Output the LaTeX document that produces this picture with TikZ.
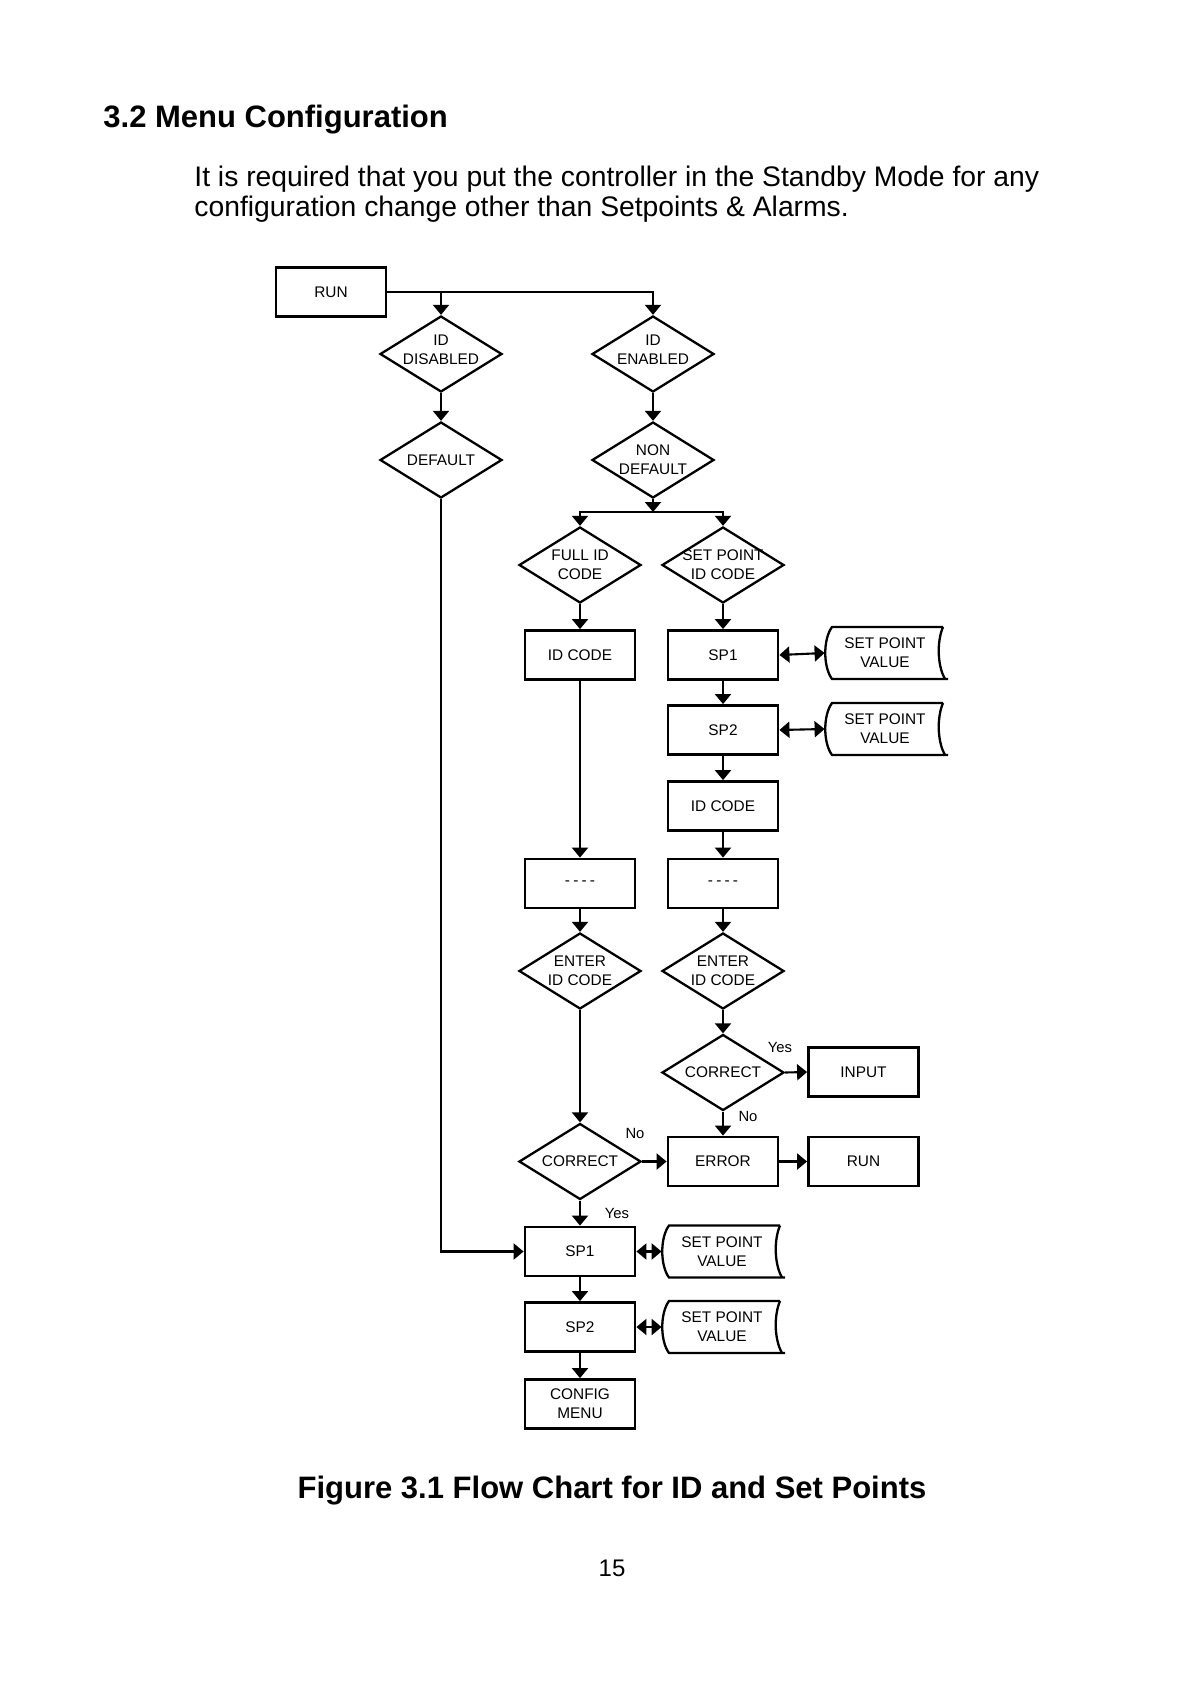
\documentclass[tikz,border=0pt]{standalone}
\usepackage{fontspec}
\setmainfont{Liberation Sans}
\usetikzlibrary{shapes.geometric,arrows.meta}
\begin{document}
\begin{tikzpicture}[x=0.5pt,y=-0.5pt,
  every node/.style={font=\fontsize{7.7}{9.5}\selectfont},
  box/.style={draw, line width=1.4pt, minimum width=55pt, minimum height=24.5pt, inner sep=0pt, align=center},
  dia/.style={draw, diamond, line width=1.15pt, minimum width=61pt, minimum height=38pt, inner sep=0pt},
  dtxt/.style={align=center, inner sep=0pt, font=\fontsize{7.7}{9.5}\selectfont},
  conn/.style={line width=1.05pt},
  arr/.style={conn, -{Triangle[width=8pt,length=5pt]}},
  darr/.style={conn, {Triangle[width=8pt,length=5pt]}-{Triangle[width=8pt,length=5pt]}},
  yn/.style={font=\fontsize{7.4}{9}\selectfont, inner sep=0pt},
  plaintext/.style={inner sep=0pt},
  pics/spv/.style={code={
     \node[minimum width=60pt, minimum height=26pt, inner sep=0pt, align=center] (-n) {SET POINT\\VALUE};
     \draw[line width=1.15pt] (58,-26) -- (-53,-26) .. controls (-62,-14) and (-62,14) .. (-53,26) -- (63,26);
     \draw[line width=1.15pt] (58,-26) .. controls (52,-12) and (52,12) .. (60,26);
  }}
]
\useasboundingbox (0,0) rectangle (1191,1684);

% page texts
\node[plaintext, anchor=base west, font=\fontsize{15.5}{18}\selectfont\bfseries] (title) at (103,128) {3.2 Menu Configuration};
\node[plaintext, anchor=base west, font=\fontsize{14.15}{15}\selectfont] (p1) at (194,187) {It is required that you put the controller in the Standby Mode for any};
\node[plaintext, anchor=base west, font=\fontsize{14.15}{15}\selectfont] (p2) at (194,217) {configuration change other than Setpoints \& Alarms.};
\node[plaintext, anchor=base, font=\fontsize{15.5}{18}\selectfont\bfseries] (cap) at (612,1498) {Figure 3.1 Flow Chart for ID and Set Points};
\node[plaintext, anchor=base, font=\fontsize{12}{14}\selectfont] (pg) at (612,1576) {15};

% nodes
\node[box] (run1) at (331,292) {RUN};
\node[dia, label={[dtxt, yshift=2pt]center:{ID\\DISABLED}}] (d1) at (441,354) {};
\node[dia, label={[dtxt, yshift=2pt]center:{ID\\ENABLED}}] (d2) at (653,354) {};
\node[dia, label={[dtxt]center:{DEFAULT}}] (d3) at (441,460) {};
\node[dia, label={[dtxt]center:{NON\\DEFAULT}}] (d4) at (653,460) {};
\coordinate (split) at (653,512);
\node[dia, label={[dtxt]center:{FULL ID\\CODE}}] (d5) at (580,565) {};
\node[dia, label={[dtxt]center:{SET POINT\\ID CODE}}] (d6) at (723,565) {};
\node[box] (b1) at (580,655) {ID CODE};
\node[box] (b2) at (723,655) {SP1};
\pic (sv1) at (885,653) {spv};
\node[box] (b3) at (723,730) {SP2};
\pic (sv2) at (885,729) {spv};
\node[box] (b4) at (723,806) {ID CODE};
\node[box] (b5) at (580,883.5) {-\kern1.6pt-\kern1.6pt-\kern1.6pt-};
\node[box] (b6) at (723,883.5) {-\kern1.6pt-\kern1.6pt-\kern1.6pt-};
\node[dia, label={[dtxt]center:{ENTER\\ID CODE}}] (d7) at (580,971) {};
\node[dia, label={[dtxt]center:{ENTER\\ID CODE}}] (d8) at (723,971) {};
\node[dia, label={[dtxt]center:{CORRECT}}] (d9) at (723,1072.5) {};
\node[box] (b7) at (863.5,1072) {INPUT};
\node[box] (b8) at (723,1161.5) {ERROR};
\node[box] (b9) at (863.5,1161.5) {RUN};
\node[dia, label={[dtxt]center:{CORRECT}}] (d10) at (580,1161.5) {};
\node[box] (b10) at (580,1251.5) {SP1};
\pic (sv3) at (722,1251.5) {spv};
\node[box] (b11) at (580,1327) {SP2};
\pic (sv4) at (722,1327) {spv};
\node[box] (b12) at (580,1404) {CONFIG\\MENU};

% labels
\node[yn] (yes1) at (780,1047) {Yes};
\node[yn] (no1) at (748,1116) {No};
\node[yn] (no2) at (635,1133) {No};
\node[yn] (yes2) at (617,1213) {Yes};

% connectors
\draw[arr] (run1.east) -| (d2.north);
\draw[arr] (run1.east -| d1.north) -- (d1.north);
\draw[arr] (d1.south) -- (d3.north);
\draw[arr] (d2.south) -- (d4.north);
\draw[arr] (d4.south) -- (split);
\draw[arr] (split) -| (d5.north);
\draw[arr] (split) -| (d6.north);
\draw[arr] (d5.south) -- (b1.north);
\draw[arr] (d6.south) -- (b2.north);
\draw[darr] (b2.east) -- (sv1-n.west);
\draw[arr] (b2.south) -- (b3.north);
\draw[darr] (b3.east) -- (sv2-n.west);
\draw[arr] (b3.south) -- (b4.north);
\draw[arr] (b4.south) -- (b6.north);
\draw[arr] (b1.south) -- (b5.north);
\draw[arr] (b5.south) -- (d7.north);
\draw[arr] (b6.south) -- (d8.north);
\draw[arr] (d8.south) -- (d9.north);
\draw[arr] (d9.east) -- (b7.west);
\draw[arr] (d9.south) -- (b8.north);
\draw[arr] (b8.east) -- (b9.west);
\draw[arr] (d7.south) -- (d10.north);
\draw[arr] (d10.east) -- (b8.west);
\draw[arr] (d10.south) -- (b10.north);
\draw[arr] (d3.south) |- (b10.west);
\draw[darr] (b10.east) -- (sv3-n.west);
\draw[arr] (b10.south) -- (b11.north);
\draw[darr] (b11.east) -- (sv4-n.west);
\draw[arr] (b11.south) -- (b12.north);
\end{tikzpicture}
\end{document}
